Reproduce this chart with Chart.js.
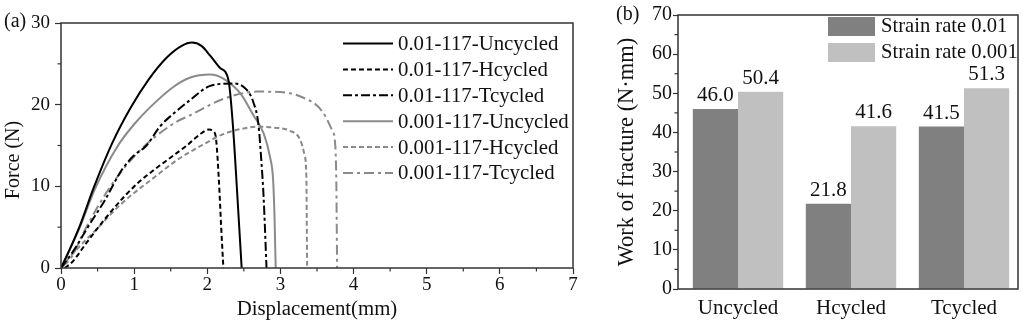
<!DOCTYPE html>
<html><head><meta charset="utf-8">
<script src="https://cdn.jsdelivr.net/npm/chart.js@4"></script>
<style>
html,body{margin:0;padding:0;background:#fff;}
#wrap{position:relative;width:1024px;height:329px;overflow:hidden;background:#fff;}
#ca{position:absolute;left:0;top:0;}
#cb{position:absolute;left:590px;top:0;}
</style></head><body>
<div id="wrap"><canvas id="ca" width="590" height="329"></canvas><canvas id="cb" width="434" height="329"></canvas></div>
<script>
// ---------- Panel (a) data : Force (N) vs Displacement (mm) ----------
const seriesNames = ['0.01-117-Uncycled','0.01-117-Hcycled','0.01-117-Tcycled','0.001-117-Uncycled','0.001-117-Hcycled','0.001-117-Tcycled'];
const dispU01  = [0,0.1,0.25,0.45,0.7,0.95,1.2,1.45,1.65,1.79,1.92,2.04,2.175,2.29,2.35,2.41,2.47];
const forceU01 = [0,1.9,5.0,9.9,15.3,19.6,23.1,25.8,27.2,27.6,27.2,26.0,24.5,23.0,17.5,9.0,0];
const dispH01  = [0.05,0.15,0.35,0.6,0.85,1.05,1.3,1.51,1.72,1.92,2.02,2.09,2.12,2.16,2.19,2.22];
const forceH01 = [0,0.7,3.1,6.0,8.6,10.4,12.2,13.6,15.0,16.5,16.95,16.7,15.8,10.5,5.0,0];
const dispT01  = [0,0.2,0.37,0.6,0.83,1.0,1.17,1.35,1.55,1.77,2.04,2.36,2.54,2.63,2.70,2.74,2.77,2.81];
const forceT01 = [0,2.5,5.05,8.3,12.0,13.8,15.0,17.3,19.0,20.6,22.3,22.6,21.8,20.3,17.5,13.0,8.7,0];
const dispU001  = [0,0.24,0.47,0.78,1.0,1.22,1.54,1.76,2.04,2.22,2.45,2.63,2.77,2.86,2.9,2.92,2.935];
const forceU001 = [0,4.6,9.8,15.0,17.6,19.7,22.2,23.3,23.7,23.2,21.4,18.7,16.5,13.5,10.8,6.0,0];
const dispH001  = [0,0.05,0.25,0.47,0.83,1.29,1.6,1.92,2.22,2.45,2.68,2.9,3.13,3.27,3.33,3.355,3.36,3.365];
const forceH001 = [0,0.6,2.6,4.6,7.9,11.2,13.3,15.0,16.4,17.0,17.3,17.2,16.8,15.7,13.8,11.0,6.0,0];
const dispT001  = [0,0.15,0.3,0.67,1.08,1.54,1.765,2.22,2.68,3.13,3.35,3.5,3.62,3.7,3.75,3.765,3.77,3.775];
const forceT001 = [0,1.4,4.2,9.9,14.4,17.7,18.7,20.7,21.6,21.4,20.7,19.9,18.5,17.0,15.0,10.0,5.0,0];
const xTicksA = [0,1,2,3,4,5,6,7];
const yTicksA = [0,10,20,30];

// ---------- Panel (b) data : Work of fracture ----------
const categories = ['Uncycled','Hcycled','Tcycled'];
const barSeries = ['Strain rate 0.01','Strain rate 0.001'];
const workRate001  = [46.0, 21.8, 41.5];
const workRate0001 = [50.4, 41.6, 51.3];
const yTicksB = [0,10,20,30,40,50,60,70];

const FONT = '"Liberation Serif","Times New Roman",serif';
Chart.defaults.font.family = FONT;
Chart.defaults.color = '#111';
const AX = '#333';
const GRAY = '#8a8a8a';

function pts(xs, ys){ return xs.map((x,i)=>({x:x, y:ys[i]})); }

const frameMinor = {
  id:'frameMinor',
  afterDraw(chart, args, o){
    const ctx = chart.ctx, a = chart.chartArea;
    ctx.save();
    ctx.strokeStyle = AX; ctx.lineWidth = 1.5; ctx.setLineDash([]);
    ctx.strokeRect(a.left, a.top, a.right-a.left, a.bottom-a.top);
    ctx.lineWidth = 1.2;
    (o.minorX||[]).forEach(v=>{ const p = chart.scales.x.getPixelForValue(v);
      ctx.beginPath(); ctx.moveTo(p, a.bottom); ctx.lineTo(p, a.bottom+3.5); ctx.stroke(); });
    (o.minorY||[]).forEach(v=>{ const p = chart.scales.y.getPixelForValue(v);
      ctx.beginPath(); ctx.moveTo(a.left-3.5, p); ctx.lineTo(a.left, p); ctx.stroke(); });
    ctx.fillStyle='#111'; ctx.textBaseline='middle';
    if (o.letter){ ctx.font='20px '+FONT; ctx.textAlign='left';
      ctx.fillText(o.letter, o.letterX, o.letterY); }
    if (o.yTitle){ ctx.save(); ctx.translate(o.yTitleX, o.yTitleY); ctx.rotate(-Math.PI/2);
      ctx.font = o.yTitleSize+'px '+FONT; ctx.textAlign='center'; ctx.fillText(o.yTitle, 0, 0); ctx.restore(); }
    ctx.restore();
  }
};

const lineLegend = {
  id:'lineLegend',
  afterDraw(chart){
    const ctx = chart.ctx;
    ctx.save();
    chart.data.datasets.forEach((ds,i)=>{
      const y = 43.5 + i*25.9;
      ctx.strokeStyle = ds.borderColor; ctx.lineWidth = ds.borderWidth;
      ctx.setLineDash(ds.borderDash||[]);
      ctx.beginPath(); ctx.moveTo(343, y); ctx.lineTo(393, y); ctx.stroke();
      ctx.setLineDash([]);
      ctx.fillStyle = '#111'; ctx.font = '20.8px '+FONT; ctx.textBaseline='middle'; ctx.textAlign='left';
      ctx.fillText(ds.label, 398, y+1);
    });
    ctx.restore();
  }
};

const mk = (label, xs, ys, color, dash) => ({label, data: pts(xs, ys), borderColor: color, borderWidth: 2,
  borderDash: dash, pointRadius: 0, cubicInterpolationMode: 'monotone', fill: false});

const minorXA = []; for (let v=0.5; v<7; v+=1) minorXA.push(v);
const minorYA = []; for (let v=5; v<30; v+=10) minorYA.push(v);

new Chart(document.getElementById('ca'), {
  type:'line',
  data:{ datasets:[
    mk(seriesNames[0], dispU01, forceU01, '#000', []),
    mk(seriesNames[1], dispH01, forceH01, '#000', [5,3]),
    mk(seriesNames[2], dispT01, forceT01, '#000', [9,3,3,3]),
    mk(seriesNames[3], dispU001, forceU001, GRAY, []),
    mk(seriesNames[4], dispH001, forceH001, GRAY, [5,3]),
    mk(seriesNames[5], dispT001, forceT001, GRAY, [10,4,3,4]),
  ]},
  options:{
    responsive:false, animation:false, devicePixelRatio:1,
    layout:{padding:{top:23, right:17, left:0, bottom:0}},
    plugins:{ legend:{display:false}, tooltip:{enabled:false},
      frameMinor:{minorX:minorXA, minorY:minorYA, letter:'(a)', letterX:4, letterY:22,
        yTitle:'Force (N)', yTitleX:14, yTitleY:160, yTitleSize:20} },
    scales:{
      x:{ type:'linear', min:0, max:7,
        afterBuildTicks(s){ s.ticks = xTicksA.map(v=>({value:v})); },
        afterFit(s){ s.height = 61; },
        border:{display:false},
        grid:{drawOnChartArea:false, drawTicks:true, tickLength:6, tickColor:AX, tickWidth:1.2},
        ticks:{font:{size:19}, padding:0, color:'#111', maxRotation:0},
        title:{display:true, text:'Displacement(mm)', font:{size:20.8}, color:'#111', padding:{top:0,bottom:7}} },
      y:{ type:'linear', min:0, max:30,
        afterBuildTicks(s){ s.ticks = yTicksA.map(v=>({value:v})); },
        afterFit(s){ s.width = 61; },
        border:{display:false},
        grid:{drawOnChartArea:false, drawTicks:true, tickLength:6, tickColor:AX, tickWidth:1.2},
        ticks:{font:{size:19}, padding:5, color:'#111'},
        title:{display:false} }
    }
  },
  plugins:[frameMinor, lineLegend]
});

// ---------- Panel (b) ----------
const barLabels = {
  id:'barLabels',
  afterDatasetsDraw(chart){
    const ctx = chart.ctx;
    ctx.save();
    ctx.fillStyle='#111'; ctx.font='21px '+FONT; ctx.textAlign='center'; ctx.textBaseline='alphabetic';
    chart.data.datasets.forEach((ds,di)=>{
      chart.getDatasetMeta(di).data.forEach((bar,i)=>{
        ctx.fillText(ds.data[i].y.toFixed(1), bar.x, bar.y-8);
      });
    });
    // legend
    ctx.font='20.6px '+FONT;
    chart.data.datasets.forEach((ds,i)=>{
      const y0 = 17 + i*26;
      ctx.fillStyle = ds.backgroundColor;
      ctx.fillRect(238, y0, 47, 19);
      ctx.fillStyle = '#111'; ctx.textAlign='left'; ctx.textBaseline='middle';
      ctx.fillText(ds.label, 291, y0+10);
    });
    ctx.restore();
  }
};
const minorYB = []; for (let v=5; v<70; v+=10) minorYB.push(v);

new Chart(document.getElementById('cb'), {
  type:'bar',
  data:{ datasets:[
    {label:barSeries[0], data: categories.map((c,i)=>({x:i+1, y:workRate001[i]})), backgroundColor:'#808080', borderWidth:0},
    {label:barSeries[1], data: categories.map((c,i)=>({x:i+1, y:workRate0001[i]})), backgroundColor:'#c0c0c0', borderWidth:0}
  ]},
  options:{
    responsive:false, animation:false, devicePixelRatio:1,
    layout:{padding:{top:15, right:6, left:0, bottom:0}},
    datasets:{bar:{categoryPercentage:0.8, barPercentage:1.0}},
    plugins:{ legend:{display:false}, tooltip:{enabled:false},
      frameMinor:{minorY:minorYB, letter:'(b)', letterX:26, letterY:15} },
    scales:{
      x:{ type:'linear', min:0.469, max:3.478, offset:false,
        afterBuildTicks(s){ s.ticks = categories.map((c,i)=>({value:i+1})); },
        afterFit(s){ s.height = 40; },
        border:{display:false},
        grid:{display:false, drawTicks:false},
        ticks:{font:{size:21}, padding:7, color:'#111', maxRotation:0, callback:(v)=>categories[v-1]} },
      y:{ type:'linear', min:0, max:70,
        afterBuildTicks(s){ s.ticks = yTicksB.map(v=>({value:v})); },
        afterFit(s){ s.width = 88; },
        border:{display:false},
        grid:{drawOnChartArea:false, drawTicks:true, tickLength:5, tickColor:AX, tickWidth:1.2},
        ticks:{font:{size:20}, padding:1, color:'#111'},
        title:{display:true, text:'Work of fracture (N·mm)', font:{size:22.5}, color:'#111', padding:{top:24,bottom:0}} }
    }
  },
  plugins:[frameMinor, barLabels]
});
</script>
</body></html>
